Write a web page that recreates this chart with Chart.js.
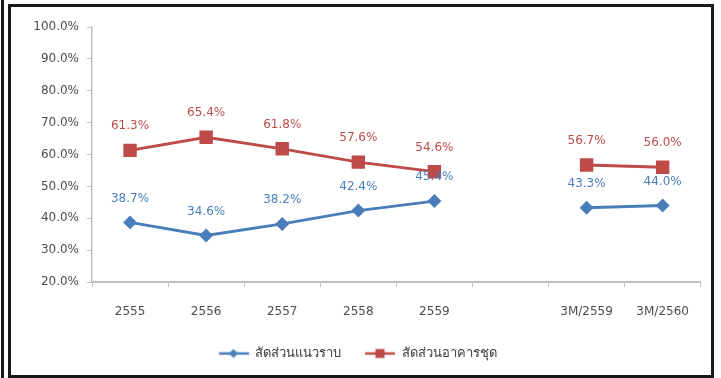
<!DOCTYPE html>
<html>
<head>
<meta charset="utf-8">
<script src="https://cdn.jsdelivr.net/npm/chart.js@4"></script>
<style>
  html, body { margin: 0; padding: 0; background: #fff; }
  #edge { position: absolute; left: 1px; top: 0; width: 3px; height: 378px; background: #1a1a1a; }
  #frame { position: absolute; left: 8px; top: 4px; width: 700px; height: 368px; border: 3px solid #1a1a1a; }
  #wrap { position: absolute; left: 0; top: 0; width: 700px; height: 368px; }
</style>
</head>
<body>
<div id="edge"></div>
<div id="frame"><div id="wrap"><canvas id="lineChart"></canvas></div></div>
<script>
const CHART = document.getElementById("lineChart");

const years = ['2555', '2556', '2557', '2558', '2559', '', '3M/2559', '3M/2560'];
const lowRise = [38.7, 34.6, 38.2, 42.4, 45.4, null, 43.3, 44.0];
const condo = [61.3, 65.4, 61.8, 57.6, 54.6, null, 56.7, 56.0];
const yTicks = [20, 30, 40, 50, 60, 70, 80, 90, 100];

const BLUE = '#4A7EBB';
const RED = '#BE4B48';
const FONT = "'DejaVu Sans', sans-serif";

// little line-with-marker swatch for the legend
function swatch(color, style) {
    let c = document.createElement('canvas');
    c.width = 30;
    c.height = 12;
    let ctx = c.getContext('2d');
    ctx.strokeStyle = color;
    ctx.fillStyle = color;
    ctx.lineWidth = 2.5;
    ctx.beginPath();
    ctx.moveTo(0, 6);
    ctx.lineTo(30, 6);
    ctx.stroke();
    ctx.beginPath();
    if (style === 'diamond') {
        ctx.moveTo(15, 1.5); ctx.lineTo(19.5, 6); ctx.lineTo(15, 10.5); ctx.lineTo(10.5, 6);
    } else {
        ctx.rect(10.5, 1.5, 9, 9);
    }
    ctx.closePath();
    ctx.fill();
    return c;
}
const swatches = [swatch(BLUE, 'diamond'), swatch(RED, 'square')];

// value labels above each point
const valueLabels = {
    id: 'valueLabels',
    afterDatasetsDraw(chart) {
        let ctx = chart.ctx;
        ctx.save();
        ctx.font = '12px ' + FONT;
        ctx.textAlign = 'center';
        ctx.textBaseline = 'middle';
        chart.data.datasets.forEach((ds, i) => {
            chart.getDatasetMeta(i).data.forEach((pt, j) => {
                let v = ds.data[j];
                if (v === null) return;
                ctx.fillStyle = ds.borderColor;
                ctx.fillText(v.toFixed(1) + '%', pt.x, pt.y - 24);
            });
        });
        ctx.restore();
    }
};

Chart.defaults.font.family = FONT;
Chart.defaults.font.size = 12;
Chart.defaults.color = '#595959';

let lineChart = new Chart(CHART, {
    type: 'line',
    data: {
        labels: years,
        datasets: [
            {
                label: 'สัดส่วนแนวราบ',
                data: lowRise,
                borderColor: BLUE,
                backgroundColor: BLUE,
                borderWidth: 2.8,
                pointStyle: 'rectRot',
                pointRadius: 5,
                pointHoverRadius: 5,
                tension: 0
            }, {
                label: 'สัดส่วนอาคารชุด',
                data: condo,
                borderColor: RED,
                backgroundColor: RED,
                borderWidth: 2.8,
                pointStyle: 'rect',
                pointRadius: 7.5,
                pointHoverRadius: 7.5,
                tension: 0
            }
        ]
    },
    options: {
        responsive: true,
        maintainAspectRatio: false,
        animation: false,
        spanGaps: false,
        layout: { padding: { top: 20, right: 7, left: 0, bottom: 5 } },
        scales: {
            x: {
                offset: true,
                grid: { offset: true, drawOnChartArea: false, tickLength: 5, color: '#BFBFBF' },
                border: { color: '#BFBFBF', width: 2 },
                ticks: { padding: 18, maxRotation: 0, autoSkip: false, color: '#4D4D4D' },
                afterFit(scale) { scale.height = 41; }
            },
            y: {
                min: 20,
                max: 100,
                afterBuildTicks(scale) { scale.ticks = yTicks.map(v => ({ value: v })); },
                grid: { drawOnChartArea: false, tickLength: 5, color: '#BFBFBF' },
                border: { color: '#BFBFBF', width: 1.5 },
                ticks: { padding: 8, color: '#4D4D4D', callback: v => v.toFixed(1) + '%' },
                afterFit(scale) { scale.width = 81; }
            }
        },
        plugins: {
            legend: {
                position: 'bottom',
                labels: {
                    usePointStyle: true,
                    pointStyleWidth: 30,
                    boxHeight: 12,
                    padding: 24,
                    color: '#404040',
                    font: { size: 13 },
                    generateLabels(chart) {
                        let items = Chart.defaults.plugins.legend.labels.generateLabels(chart);
                        items.forEach((it, i) => { it.pointStyle = swatches[i]; });
                        return items;
                    }
                }
            },
            tooltip: { enabled: false }
        }
    },
    plugins: [valueLabels]
});
</script>
</body>
</html>
